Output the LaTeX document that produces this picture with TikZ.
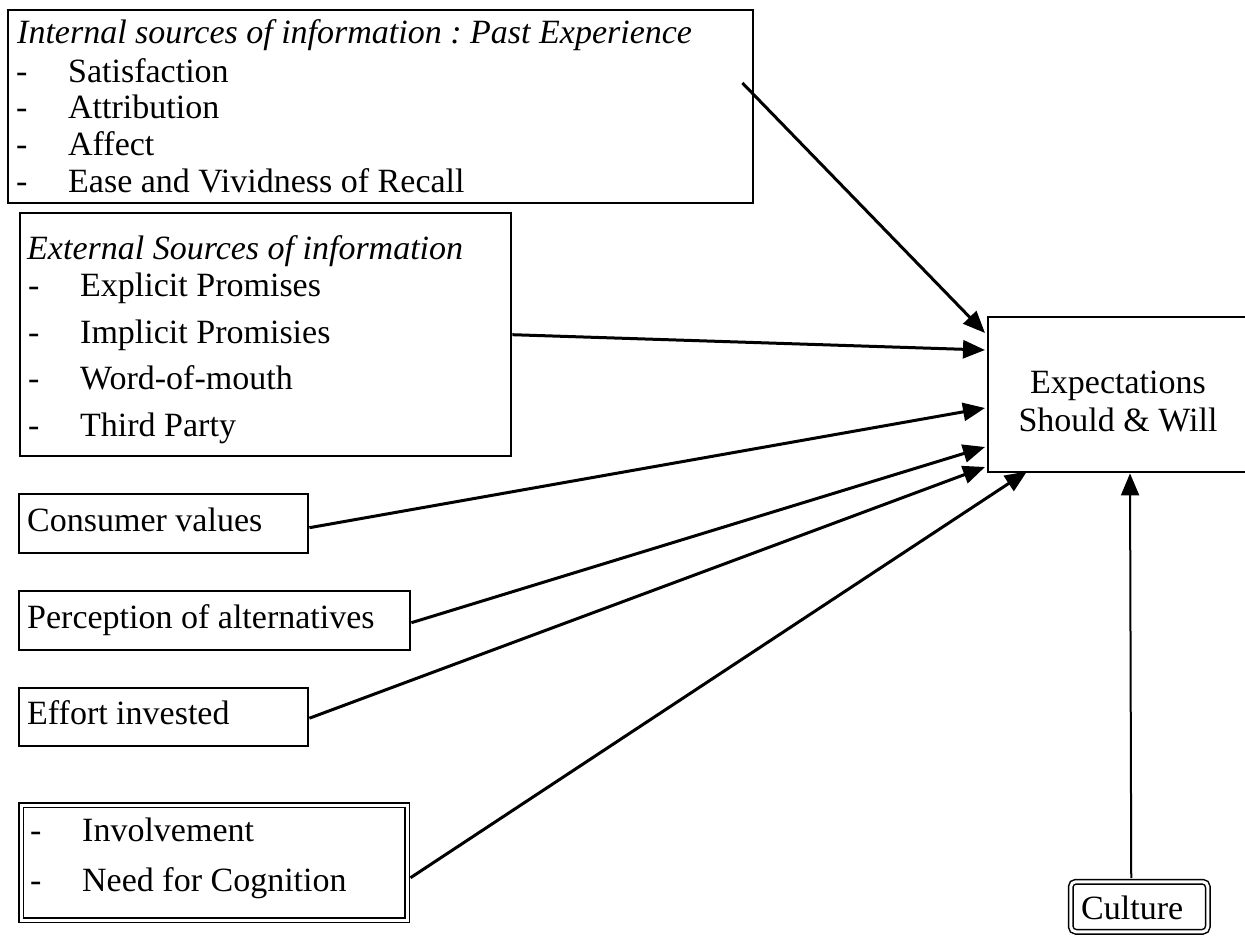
\documentclass[tikz,border=0pt]{standalone}
\usepackage{fontspec}
\setmainfont{Liberation Serif}
\usetikzlibrary{arrows.meta,calc}
\frenchspacing
\begin{document}
\begin{tikzpicture}[x=1pt,y=-1pt,
  box/.style={draw, line width=2.4pt, rectangle, inner sep=0pt, anchor=north west},
  dbox/.style={draw, line width=1.5pt, double, double distance=3pt, rectangle, inner sep=0pt, anchor=north west},
  txt/.style={anchor=base west, inner sep=0pt, font=\fontsize{34}{39}\selectfont},
  itxt/.style={anchor=base west, inner sep=0pt, font=\fontsize{34}{39}\selectfont\itshape},
  arr/.style={line width=3pt, -{Triangle[length=22pt,width=18pt]}},
]
\fill[white] (0,0) rectangle (1245,936);
\useasboundingbox (0,0) rectangle (1245,936);

% boxes
\node[box, minimum width=745pt, minimum height=193pt] (b1) at (7,9) {};
\node[box, minimum width=491pt, minimum height=243pt] (b2) at (19,212) {};
\node[box, minimum width=289pt, minimum height=59pt] (cv) at (18,493) {};
\node[box, minimum width=391pt, minimum height=59pt] (pa) at (18,590) {};
\node[box, minimum width=289pt, minimum height=58pt] (ef) at (18,687) {};
\node[dbox, minimum width=386pt, minimum height=115pt] (inv) at (20.5,804.5) {};
\node[box, minimum width=290pt, minimum height=155pt] (exp) at (987,316) {};
\node[dbox, rounded corners=5pt, minimum width=137pt, minimum height=50pt] (cul) at (1070,881) {};

% box 1 text
\node[itxt] (b1h) at (17,44) {Internal sources of information : Past Experience};
\node[txt] (b1d1) at (16,83) {-};  \node[txt] (b1i1) at (68,83) {Satisfaction};
\node[txt] (b1d2) at (16,119) {-}; \node[txt] (b1i2) at (68,119) {Attribution};
\node[txt] (b1d3) at (16,156) {-}; \node[txt] (b1i3) at (68,156) {Affect};
\node[txt] (b1d4) at (16,193) {-}; \node[txt] (b1i4) at (68,193) {Ease and Vividness of Recall};

% box 2 text
\node[itxt] (b2h) at (27,259) {External Sources of information};
\node[txt] (b2d1) at (28,296) {-}; \node[txt] (b2i1) at (80,296) {Explicit Promises};
\node[txt] (b2d2) at (28,343) {-}; \node[txt] (b2i2) at (80,343) {Implicit Promisies};
\node[txt] (b2d3) at (28,389) {-}; \node[txt] (b2i3) at (80,389) {Word-of-mouth};
\node[txt] (b2d4) at (28,436) {-}; \node[txt] (b2i4) at (80,436) {Third Party};

% single boxes text
\node[txt] (cvt) at (27,531) {Consumer values};
\node[txt] (pat) at (27,628) {Perception of alternatives};
\node[txt] (eft) at (27,724) {Effort invested};

% involvement
\node[txt] (invd1) at (30,841) {-}; \node[txt] (invi1) at (82,841) {Involvement};
\node[txt] (invd2) at (30,891) {-}; \node[txt] (invi2) at (82,891) {Need for Cognition};

% expectations
\node[txt, anchor=base] (e1) at (1118,393) {Expectations};
\node[txt, anchor=base] (e2) at (1118,431) {Should \& Will};

% culture
\node[txt] (cult) at (1081,919) {Culture};

% connectors
\coordinate (s1) at ($(b1.north east)+(-12,74)$);
\draw[arr] (s1) -- ($(exp.north west)+(-2,17)$);
\draw[arr] (b2.east) -- ($(exp.north west)+(-2,34)$);
\draw[arr] ($(cv.east)+(0,4)$) -- ($(exp.north west)+(-2,92)$);
\draw[arr] ($(pa.east)+(0,2)$) -- ($(exp.north west)+(-2,131)$);
\draw[arr] ($(ef.east)+(0,1)$) -- ($(exp.north west)+(-2,151)$);
\draw[arr] ($(inv.east)+(2.5,15)$) -- ($(exp.south west)+(40,-2)$);
\draw[line width=2pt, -{Triangle[length=22pt,width=18pt]}] ($(cul.north)+(-8,-3)$) -- ($(exp.south west)+(143,0)$);
\end{tikzpicture}
\end{document}
